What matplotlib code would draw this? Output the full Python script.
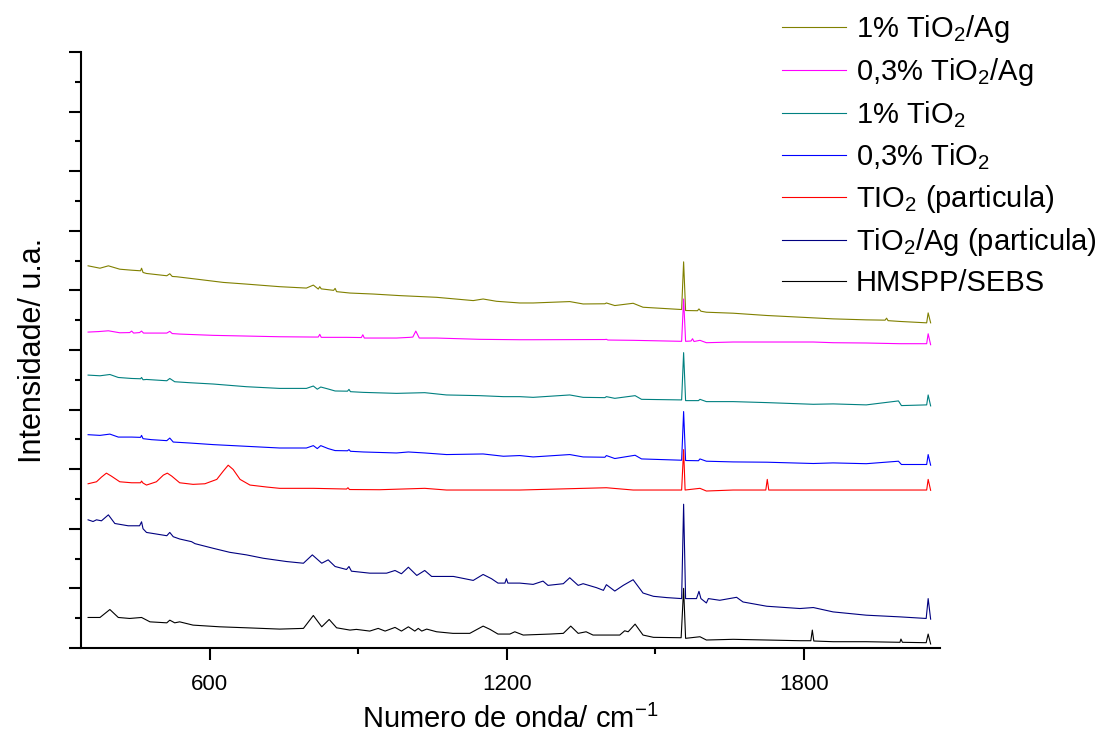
import matplotlib
matplotlib.use("Agg")
import matplotlib.pyplot as plt
import numpy as np
from matplotlib.ticker import MultipleLocator

plt.rcParams["font.family"] = ["Liberation Sans", "DejaVu Sans"]
plt.rcParams["mathtext.fontset"] = "custom"
plt.rcParams["mathtext.rm"] = "Liberation Sans"
plt.rcParams["mathtext.it"] = "Liberation Sans:italic"

# Raman spectra, stacked with offsets: (wavenumber cm-1, intensity u.a.)
tio2_ag_1pct = [
    (354, 384.7), (378, 382.3), (395, 384.7), (418, 381.3), (442, 380.3), (460, 379.7),
    (462, 382.3), (465, 378), (472, 377), (513, 374.7), (519, 376.7), (524, 374),
    (533, 373.7), (573, 371.3), (627, 368), (674, 366.3), (741, 363.7), (795, 362.3),
    (809, 365.3), (819, 361.3), (822, 363.7), (825, 361.5), (850, 360), (853, 362),
    (856, 358.7), (883, 357.3), (930, 356.3), (984, 354.7), (1058, 353), (1132, 349.7),
    (1152, 351.3), (1179, 349), (1226, 347.3), (1253, 347.3), (1327, 348.7), (1354, 346.3),
    (1398, 346.5), (1401, 347.3), (1418, 344.7), (1455, 347), (1475, 343), (1553, 340.7),
    (1557, 388.7), (1561, 339.7), (1585, 339.5), (1588, 341.3), (1592, 339), (1603, 338),
    (1657, 337), (1725, 334.7), (1792, 333), (1859, 331.3), (1926, 330.3), (1964, 330),
    (1967, 332), (1970, 329.5), (1994, 328.7), (2048, 327.3), (2051, 337.3), (2056, 327.3),
]
tio2_ag_03pct = [
    (354, 318), (375, 318.5), (395, 319.3), (418, 317.3), (438, 317.5), (442, 319),
    (446, 317), (458, 317.5), (462, 319), (466, 317), (513, 317), (519, 318.7),
    (524, 316.5), (539, 316), (607, 314.7), (674, 314), (741, 313.3), (809, 313),
    (819, 313), (822, 315.7), (825, 312.7), (876, 312.7), (906, 312.5), (909, 315.3),
    (912, 312), (977, 312), (1004, 312.7), (1010, 313), (1016, 319), (1023, 312),
    (1058, 312), (1145, 310.7), (1226, 310.3), (1253, 310.3), (1398, 310.5), (1401, 310.7),
    (1404, 310), (1455, 309.7), (1553, 308.7), (1557, 351.3), (1561, 308.7), (1572, 309),
    (1575, 311.3), (1578, 308.5), (1590, 309.7), (1603, 307.3), (1657, 308), (1725, 308),
    (1819, 308), (1859, 307.3), (1926, 307), (1994, 306.3), (2048, 306.3), (2051, 316.3),
    (2056, 305.3),
]
tio2_1pct = [
    (354, 274.7), (378, 274), (398, 275.3), (415, 272.3), (442, 271.3), (460, 271),
    (462, 272.3), (465, 270), (472, 270.3), (513, 269), (519, 271.3), (529, 268),
    (560, 267), (607, 265.7), (674, 263), (741, 261.3), (795, 261.3), (809, 263.7),
    (817, 260.5), (824, 262.7), (839, 260.7), (853, 258.7), (878, 258.5), (881, 260.3),
    (884, 258), (910, 257.3), (977, 256.3), (1034, 257), (1078, 254.7), (1145, 254),
    (1193, 253), (1226, 253), (1253, 252.3), (1327, 254.7), (1354, 252.3), (1398, 252),
    (1401, 253), (1418, 251.3), (1459, 254), (1472, 250.3), (1553, 249.7), (1557, 297.3),
    (1561, 249), (1587, 249), (1590, 250.3), (1603, 248), (1657, 248), (1725, 247),
    (1819, 245.3), (1859, 245.7), (1926, 244.7), (1991, 248.7), (1997, 244), (2048, 244.7),
    (2051, 254.7), (2056, 243.7),
]
tio2_03pct = [
    (354, 214.7), (378, 214), (398, 215.3), (415, 212.3), (442, 212.3), (460, 212),
    (462, 214), (465, 210.7), (482, 209.7), (513, 208.7), (519, 211.3), (526, 207.3),
    (560, 206.3), (607, 204.7), (674, 203), (741, 201.3), (795, 201.3), (809, 203.7),
    (817, 200.7), (824, 203.7), (839, 200.7), (853, 198.7), (878, 198.5), (881, 199.7),
    (884, 198), (910, 197.3), (977, 196.3), (1001, 197.3), (1034, 196.3), (1078, 194.7),
    (1152, 195.3), (1193, 193), (1226, 193.7), (1253, 192.3), (1327, 194.7), (1354, 192.3),
    (1398, 192), (1401, 193.7), (1418, 190.7), (1459, 194), (1472, 190.3), (1553, 189),
    (1557, 238), (1561, 188.7), (1587, 188.5), (1590, 190.3), (1603, 188), (1657, 187.3),
    (1725, 187), (1819, 185.7), (1859, 186.3), (1926, 185.5), (1991, 188), (1997, 184.7),
    (2048, 184.7), (2051, 194.7), (2056, 184),
]
tio2_particle = [
    (354, 165.3), (371, 167.3), (381, 172), (391, 176), (401, 173), (418, 167.3),
    (442, 166.3), (460, 166.3), (462, 168), (465, 166), (472, 164), (492, 167.3),
    (506, 174), (514, 176), (523, 173), (539, 166.3), (566, 164.7), (590, 165.3),
    (614, 169.7), (627, 178), (637, 184), (647, 179.7), (661, 169.7), (681, 164),
    (715, 162), (741, 160.7), (809, 160.7), (876, 160), (879, 161.3), (882, 159.5),
    (943, 159.3), (1034, 160.7), (1078, 159), (1145, 159), (1226, 159), (1401, 161.3),
    (1455, 159), (1553, 159), (1557, 199.7), (1560, 159), (1590, 160.7), (1603, 158),
    (1657, 159), (1723, 159), (1726, 169.7), (1729, 159), (1792, 159), (1859, 159),
    (1994, 159), (2048, 159), (2051, 169.7), (2056, 158.7),
]
tio2_ag_particle = [
    (354, 129), (364, 127.3), (371, 129), (381, 128), (395, 134), (408, 125.3),
    (435, 123), (452, 123), (458, 123), (462, 127), (465, 120), (472, 116.3),
    (513, 113), (519, 116.3), (526, 112), (539, 109.7), (563, 107), (570, 105),
    (607, 100.3), (640, 96.3), (674, 93.7), (708, 90.3), (755, 87), (789, 85.3),
    (807, 93.7), (826, 85.3), (839, 88.7), (853, 82), (876, 79), (881, 82),
    (886, 77.3), (923, 75.3), (957, 75.3), (974, 78), (987, 74.7), (1001, 81.3),
    (1018, 73), (1034, 78), (1048, 72), (1092, 72), (1132, 68), (1152, 74),
    (1169, 69.7), (1182, 65.3), (1196, 65.3), (1199, 69.7), (1202, 65.3), (1226, 65.3),
    (1253, 64), (1273, 67.3), (1283, 63), (1314, 64.7), (1327, 70.7), (1344, 63),
    (1354, 64.7), (1381, 60.7), (1395, 58), (1401, 63.7), (1418, 57.3), (1435, 63),
    (1455, 68.7), (1475, 55.3), (1496, 52), (1523, 50.7), (1553, 49.7), (1557, 144.7),
    (1561, 49.7), (1583, 49.7), (1588, 57), (1592, 49.7), (1603, 45.3), (1607, 49.7),
    (1630, 48), (1664, 51), (1677, 46.3), (1725, 42), (1792, 39.7), (1819, 40.7),
    (1859, 36.3), (1926, 33), (1994, 31.3), (2047, 29.7), (2051, 49.7), (2056, 29),
]
hmspp_sebs = [
    (354, 30.7), (378, 30.7), (398, 38.7), (415, 30.7), (438, 29.7), (462, 30.7),
    (479, 26.3), (513, 25.3), (519, 28), (529, 25.3), (539, 26.3), (566, 23),
    (620, 21.3), (674, 20.3), (741, 19), (789, 19.7), (809, 32.7), (826, 21.3),
    (841, 28.7), (856, 20.3), (883, 18), (896, 18.7), (923, 17), (940, 19.7),
    (954, 17), (974, 20.7), (987, 17), (1001, 21.3), (1014, 17), (1021, 19.7),
    (1028, 17), (1038, 19), (1058, 16.3), (1091, 14.7), (1125, 14.7), (1152, 22),
    (1166, 18.7), (1182, 14), (1206, 14), (1216, 16.3), (1233, 13), (1287, 14),
    (1314, 14.7), (1329, 22), (1344, 14.7), (1360, 16.3), (1374, 13), (1401, 13),
    (1428, 13), (1438, 17.3), (1445, 16.3), (1459, 24), (1475, 13), (1496, 10.7),
    (1552, 10.3), (1557, 60), (1561, 9.7), (1590, 11.3), (1603, 8), (1657, 8.7),
    (1725, 8), (1792, 7.3), (1814, 7.3), (1817, 18), (1820, 7), (1859, 6.3),
    (1926, 6.3), (1994, 5.7), (1996, 9), (1999, 5.7), (2047, 5.3), (2051, 14),
    (2056, 4),
]

series = [tio2_ag_1pct, tio2_ag_03pct, tio2_1pct, tio2_03pct,
          tio2_particle, tio2_ag_particle, hmspp_sebs]
labels = [
    "1% TiO$_\\mathregular{2}$/Ag",
    "0,3% TiO$_\\mathregular{2}$/Ag",
    "1% TiO$_\\mathregular{2}$",
    "0,3% TiO$_\\mathregular{2}$",
    "TIO$_\\mathregular{2}$ (particula)",
    "TiO$_\\mathregular{2}$/Ag (particula)",
    "HMSPP/SEBS",
]
colors = ["#808000", "#FF00FF", "#008080", "#0000FF", "#FF0000", "#000080", "#000000"]

fig = plt.figure(figsize=(10.96, 7.38), dpi=100)
ax = fig.add_axes([0.0736, 0.122, 0.7841, 0.8076])

for data, label, color in zip(series, labels, colors):
    xy = np.array(data)
    ax.plot(xy[:, 0], xy[:, 1], color=color, lw=0.8, label=label)

ax.set_xlim(339, 2075)
ax.set_ylim(0, 600)

for side in ("top", "right"):
    ax.spines[side].set_visible(False)
for side in ("left", "bottom"):
    ax.spines[side].set_linewidth(1.5)

ax.xaxis.set_major_locator(MultipleLocator(600))
ax.xaxis.set_minor_locator(MultipleLocator(300))
ax.yaxis.set_major_locator(MultipleLocator(60))
ax.yaxis.set_minor_locator(MultipleLocator(30))
ax.tick_params(which="major", direction="out", length=8.5, width=1.5,
               labelsize=16, pad=10)
ax.tick_params(which="minor", direction="out", length=4.3, width=1.5)
ax.tick_params(axis="y", labelleft=False)

ax.set_xlabel("Numero de onda/ cm$^{\\mathregular{-1}}$", fontsize=21, labelpad=7)
ax.set_ylabel("Intensidade/ u.a.", fontsize=22, labelpad=15)

ax.legend(loc="upper left", bbox_to_anchor=(782 / 1096, 1 - 13 / 738),
          bbox_transform=fig.transFigure, frameon=False, fontsize=21,
          handlelength=2.2, handletextpad=0.34, labelspacing=0.38,
          borderpad=0, borderaxespad=0)

fig.savefig("out.png", dpi=100)
